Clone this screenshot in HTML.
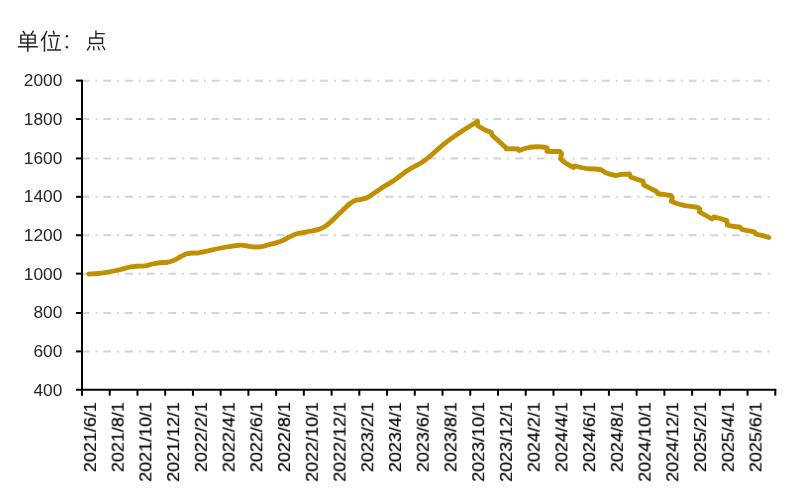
<!DOCTYPE html>
<html lang="zh"><head><meta charset="utf-8"><title>Chart</title>
<style>
html,body{margin:0;padding:0;background:#fff}
#c{position:relative;width:800px;height:497px;overflow:hidden;background:#fff;font-family:"Liberation Sans",sans-serif;color:#262626;font-size:17.3px;line-height:20px}
.y{position:absolute;left:0;width:62.3px;height:20px;text-align:right;white-space:nowrap;will-change:transform}
.y span{display:inline-block;transform-origin:100% 50%;transform:scaleX(1.0)}
.x{position:absolute;left:0;top:0;width:120px;height:20px;font-size:16.6px;text-align:right;white-space:nowrap;transform-origin:0 0;will-change:transform;color:#000;-webkit-text-stroke:0.2px #000}
.x span{display:inline-block;transform-origin:100% 50%;transform:scaleX(1.08)}
</style></head><body><div id="c">
<svg width="800" height="497" viewBox="0 0 800 497" style="position:absolute;left:0;top:0">
<line x1="81.60" y1="351.43" x2="775.30" y2="351.43" stroke="#D4D4D4" stroke-width="2.0" stroke-dasharray="7.9 5.94 1.95 5.89"/>
<line x1="81.60" y1="313.03" x2="775.30" y2="313.03" stroke="#D4D4D4" stroke-width="2.0" stroke-dasharray="7.9 5.94 1.95 5.89"/>
<line x1="81.60" y1="273.63" x2="775.30" y2="273.63" stroke="#D4D4D4" stroke-width="2.0" stroke-dasharray="7.9 5.94 1.95 5.89"/>
<line x1="81.60" y1="235.23" x2="775.30" y2="235.23" stroke="#D4D4D4" stroke-width="2.0" stroke-dasharray="7.9 5.94 1.95 5.89"/>
<line x1="81.60" y1="196.83" x2="775.30" y2="196.83" stroke="#D4D4D4" stroke-width="2.0" stroke-dasharray="7.9 5.94 1.95 5.89"/>
<line x1="81.60" y1="158.43" x2="775.30" y2="158.43" stroke="#D4D4D4" stroke-width="2.0" stroke-dasharray="7.9 5.94 1.95 5.89"/>
<line x1="81.60" y1="119.03" x2="775.30" y2="119.03" stroke="#D4D4D4" stroke-width="2.0" stroke-dasharray="7.9 5.94 1.95 5.89"/>
<line x1="81.60" y1="80.63" x2="775.30" y2="80.63" stroke="#D4D4D4" stroke-width="2.0" stroke-dasharray="7.9 5.94 1.95 5.89"/>
<path d="M88.90 274.00 C90.54 273.92 95.03 273.92 98.75 273.50 C102.47 273.08 107.71 272.12 111.25 271.50 C114.79 270.88 116.88 270.50 120.00 269.75 C123.12 269.00 127.29 267.58 130.00 267.00 C132.71 266.42 133.75 266.43 136.25 266.25 C138.75 266.07 142.29 266.27 145.00 265.90 C147.71 265.52 150.00 264.52 152.50 264.00 C155.00 263.48 157.50 263.04 160.00 262.75 C162.50 262.46 165.42 262.55 167.50 262.25 C169.58 261.95 171.25 261.36 172.50 260.95 C173.75 260.54 174.17 260.21 175.00 259.80 C175.83 259.39 176.67 258.98 177.50 258.50 C178.33 258.02 179.17 257.38 180.00 256.90 C180.83 256.42 181.67 256.00 182.50 255.60 C183.33 255.20 184.17 254.82 185.00 254.50 C185.83 254.18 186.67 253.91 187.50 253.70 C188.33 253.49 188.92 253.37 190.00 253.25 C191.08 253.13 192.54 253.06 194.00 253.00 C195.46 252.94 196.50 253.23 198.75 252.90 C201.00 252.57 204.58 251.65 207.50 251.00 C210.42 250.35 213.33 249.62 216.25 249.00 C219.17 248.38 222.08 247.77 225.00 247.25 C227.92 246.73 231.04 246.26 233.75 245.90 C236.46 245.54 238.96 245.08 241.25 245.10 C243.54 245.12 245.21 245.68 247.50 246.00 C249.79 246.32 252.50 246.92 255.00 247.00 C257.50 247.08 260.42 246.83 262.50 246.50 C264.58 246.17 265.42 245.57 267.50 245.00 C269.58 244.43 272.50 243.83 275.00 243.10 C277.50 242.37 280.21 241.57 282.50 240.60 C284.79 239.62 286.67 238.28 288.75 237.25 C290.83 236.22 292.92 235.12 295.00 234.40 C297.08 233.68 298.75 233.43 301.25 232.90 C303.75 232.38 307.08 231.83 310.00 231.25 C312.92 230.67 316.25 230.19 318.75 229.40 C321.25 228.61 323.12 227.65 325.00 226.50 C326.88 225.35 328.33 223.96 330.00 222.50 C331.67 221.04 333.33 219.35 335.00 217.75 C336.67 216.15 338.33 214.51 340.00 212.90 C341.67 211.29 343.33 209.67 345.00 208.10 C346.67 206.53 348.33 204.78 350.00 203.50 C351.67 202.22 353.12 201.08 355.00 200.40 C356.88 199.72 359.17 199.88 361.25 199.40 C363.33 198.92 365.21 198.65 367.50 197.50 C369.79 196.35 372.50 194.17 375.00 192.50 C377.50 190.83 379.58 189.33 382.50 187.50 C385.42 185.67 389.58 183.42 392.50 181.50 C395.42 179.58 397.50 177.82 400.00 176.00 C402.50 174.18 405.00 172.22 407.50 170.60 C410.00 168.97 412.50 167.70 415.00 166.25 C417.50 164.80 420.00 163.57 422.50 161.90 C425.00 160.23 427.50 158.30 430.00 156.25 C432.50 154.20 435.00 151.78 437.50 149.60 C440.00 147.42 442.50 145.20 445.00 143.20 C447.50 141.20 450.00 139.40 452.50 137.60 C455.00 135.80 457.50 134.07 460.00 132.40 C462.50 130.73 465.00 129.17 467.50 127.60 C470.00 126.02 473.32 123.98 475.00 122.95 C476.68 121.92 477.17 121.66 477.60 121.40 L477.40 125.20 L480.00 127.10 L485.00 129.90 L491.40 132.40 L491.90 135.00 L498.20 140.60 L505.70 147.50 L506.20 148.80 L512.50 148.75 L518.10 149.00 L519.20 150.60 L523.75 148.75 L530.00 147.25 L537.50 146.60 L545.00 147.25 L547.25 148.10 L546.90 151.25 L552.50 151.50 L560.00 151.50 L561.50 153.50 L560.60 158.75 L563.75 161.90 L568.75 165.00 L573.75 167.50 L575.00 166.00 L581.25 167.50 L587.50 168.75 L595.00 169.00 L601.25 169.75 L605.00 172.40 L610.00 174.20 L615.60 175.60 L621.25 174.40 L629.40 174.00 L630.60 176.90 L636.25 179.00 L643.10 181.25 L643.75 185.00 L650.00 188.10 L656.25 191.25 L658.10 193.75 L663.75 194.40 L671.25 195.60 L672.25 198.10 L671.25 201.25 L677.50 203.75 L685.00 205.60 L692.50 206.70 L697.50 207.40 L699.75 208.75 L699.40 211.90 L705.00 215.00 L711.90 219.00 L713.75 216.90 L720.00 218.50 L726.90 220.60 L727.25 225.00 L732.50 226.25 L740.00 227.25 L741.90 229.40 L747.50 230.60 L754.40 231.90 L755.60 234.00 L762.50 235.60 L768.90 237.50" fill="none" stroke="#BF9000" stroke-width="4.8" stroke-linecap="round" stroke-linejoin="round"/>
<g stroke="#000" stroke-width="2" stroke-linecap="butt">
<line x1="82.00" y1="79.70" x2="82.00" y2="395.70"/>
<line x1="76.00" y1="389.80" x2="776.30" y2="389.80"/>
<line x1="76" y1="351.43" x2="82.00" y2="351.43"/>
<line x1="76" y1="313.03" x2="82.00" y2="313.03"/>
<line x1="76" y1="273.63" x2="82.00" y2="273.63"/>
<line x1="76" y1="235.23" x2="82.00" y2="235.23"/>
<line x1="76" y1="196.83" x2="82.00" y2="196.83"/>
<line x1="76" y1="158.43" x2="82.00" y2="158.43"/>
<line x1="76" y1="119.03" x2="82.00" y2="119.03"/>
<line x1="76" y1="80.63" x2="82.00" y2="80.63"/>
<line x1="109.73" y1="389.80" x2="109.73" y2="395.70"/>
<line x1="137.46" y1="389.80" x2="137.46" y2="395.70"/>
<line x1="165.20" y1="389.80" x2="165.20" y2="395.70"/>
<line x1="192.93" y1="389.80" x2="192.93" y2="395.70"/>
<line x1="220.66" y1="389.80" x2="220.66" y2="395.70"/>
<line x1="248.39" y1="389.80" x2="248.39" y2="395.70"/>
<line x1="276.12" y1="389.80" x2="276.12" y2="395.70"/>
<line x1="303.86" y1="389.80" x2="303.86" y2="395.70"/>
<line x1="331.59" y1="389.80" x2="331.59" y2="395.70"/>
<line x1="359.32" y1="389.80" x2="359.32" y2="395.70"/>
<line x1="387.05" y1="389.80" x2="387.05" y2="395.70"/>
<line x1="414.78" y1="389.80" x2="414.78" y2="395.70"/>
<line x1="442.52" y1="389.80" x2="442.52" y2="395.70"/>
<line x1="470.25" y1="389.80" x2="470.25" y2="395.70"/>
<line x1="497.98" y1="389.80" x2="497.98" y2="395.70"/>
<line x1="525.71" y1="389.80" x2="525.71" y2="395.70"/>
<line x1="553.44" y1="389.80" x2="553.44" y2="395.70"/>
<line x1="581.18" y1="389.80" x2="581.18" y2="395.70"/>
<line x1="608.91" y1="389.80" x2="608.91" y2="395.70"/>
<line x1="636.64" y1="389.80" x2="636.64" y2="395.70"/>
<line x1="664.37" y1="389.80" x2="664.37" y2="395.70"/>
<line x1="692.10" y1="389.80" x2="692.10" y2="395.70"/>
<line x1="719.84" y1="389.80" x2="719.84" y2="395.70"/>
<line x1="747.57" y1="389.80" x2="747.57" y2="395.70"/>
<line x1="775.30" y1="389.80" x2="775.30" y2="395.70"/>
</g>
<g fill="#262626" role="img" aria-label="单位：点">
<path transform="translate(16.777 49.908) scale(0.02223 -0.02327)" d="M216 440H463V325H216ZM532 440H791V325H532ZM216 607H463V494H216ZM532 607H791V494H532ZM714 834C690 784 648 714 612 665H365L404 685C384 727 337 789 296 834L239 807C277 765 317 705 340 665H150V267H463V167H55V104H463V-77H532V104H948V167H532V267H859V665H686C719 708 755 762 786 810Z"/>
<path transform="translate(39.626 49.957) scale(0.02240 -0.02293)" d="M370 654V589H912V654ZM437 509C469 369 498 183 507 78L574 97C563 199 532 381 498 523ZM573 827C592 777 612 710 621 668L687 687C677 730 655 794 636 844ZM326 28V-36H954V28H741C779 164 821 365 848 519L777 532C758 380 716 164 678 28ZM291 835C234 681 139 529 39 432C51 417 71 382 78 366C114 404 150 447 184 495V-76H251V600C291 669 326 742 354 815Z"/>
<path transform="translate(85.408 48.982) scale(0.02140 -0.02203)" d="M231 469H765V280H231ZM343 128C357 64 365 -19 365 -69L433 -60C432 -12 422 70 407 133ZM550 127C580 65 610 -17 621 -67L686 -50C675 -1 642 80 611 140ZM755 135C806 73 862 -15 885 -70L948 -43C923 12 865 96 814 159ZM181 153C150 79 98 -2 44 -48L105 -78C160 -25 211 59 245 136ZM168 532V218H833V532H525V665H909V729H525V839H458V532Z"/>
<circle cx="66.9" cy="36.3" r="1.2"/><circle cx="66.9" cy="47.25" r="1.2"/>
</g>
</svg>
<div class="y" style="top:380.00px"><span>400</span></div>
<div class="y" style="top:341.00px"><span>600</span></div>
<div class="y" style="top:302.00px"><span>800</span></div>
<div class="y" style="top:264.00px"><span>1000</span></div>
<div class="y" style="top:225.00px"><span>1200</span></div>
<div class="y" style="top:186.00px"><span>1400</span></div>
<div class="y" style="top:148.00px"><span>1600</span></div>
<div class="y" style="top:109.00px"><span>1800</span></div>
<div class="y" style="top:70.00px"><span>2000</span></div>
<div class="x" style="transform:translate(80.90px,521.80px) rotate(-90deg)"><span>2021/6/1</span></div>
<div class="x" style="transform:translate(108.63px,521.80px) rotate(-90deg)"><span>2021/8/1</span></div>
<div class="x" style="transform:translate(136.36px,521.80px) rotate(-90deg)"><span>2021/10/1</span></div>
<div class="x" style="transform:translate(164.10px,521.80px) rotate(-90deg)"><span>2021/12/1</span></div>
<div class="x" style="transform:translate(191.83px,521.80px) rotate(-90deg)"><span>2022/2/1</span></div>
<div class="x" style="transform:translate(219.56px,521.80px) rotate(-90deg)"><span>2022/4/1</span></div>
<div class="x" style="transform:translate(247.29px,521.80px) rotate(-90deg)"><span>2022/6/1</span></div>
<div class="x" style="transform:translate(275.02px,521.80px) rotate(-90deg)"><span>2022/8/1</span></div>
<div class="x" style="transform:translate(302.76px,521.80px) rotate(-90deg)"><span>2022/10/1</span></div>
<div class="x" style="transform:translate(330.49px,521.80px) rotate(-90deg)"><span>2022/12/1</span></div>
<div class="x" style="transform:translate(358.22px,521.80px) rotate(-90deg)"><span>2023/2/1</span></div>
<div class="x" style="transform:translate(385.95px,521.80px) rotate(-90deg)"><span>2023/4/1</span></div>
<div class="x" style="transform:translate(413.68px,521.80px) rotate(-90deg)"><span>2023/6/1</span></div>
<div class="x" style="transform:translate(441.42px,521.80px) rotate(-90deg)"><span>2023/8/1</span></div>
<div class="x" style="transform:translate(469.15px,521.80px) rotate(-90deg)"><span>2023/10/1</span></div>
<div class="x" style="transform:translate(496.88px,521.80px) rotate(-90deg)"><span>2023/12/1</span></div>
<div class="x" style="transform:translate(524.61px,521.80px) rotate(-90deg)"><span>2024/2/1</span></div>
<div class="x" style="transform:translate(552.34px,521.80px) rotate(-90deg)"><span>2024/4/1</span></div>
<div class="x" style="transform:translate(580.08px,521.80px) rotate(-90deg)"><span>2024/6/1</span></div>
<div class="x" style="transform:translate(607.81px,521.80px) rotate(-90deg)"><span>2024/8/1</span></div>
<div class="x" style="transform:translate(635.54px,521.80px) rotate(-90deg)"><span>2024/10/1</span></div>
<div class="x" style="transform:translate(663.27px,521.80px) rotate(-90deg)"><span>2024/12/1</span></div>
<div class="x" style="transform:translate(691.00px,521.80px) rotate(-90deg)"><span>2025/2/1</span></div>
<div class="x" style="transform:translate(718.74px,521.80px) rotate(-90deg)"><span>2025/4/1</span></div>
<div class="x" style="transform:translate(746.47px,521.80px) rotate(-90deg)"><span>2025/6/1</span></div>
</div></body></html>
